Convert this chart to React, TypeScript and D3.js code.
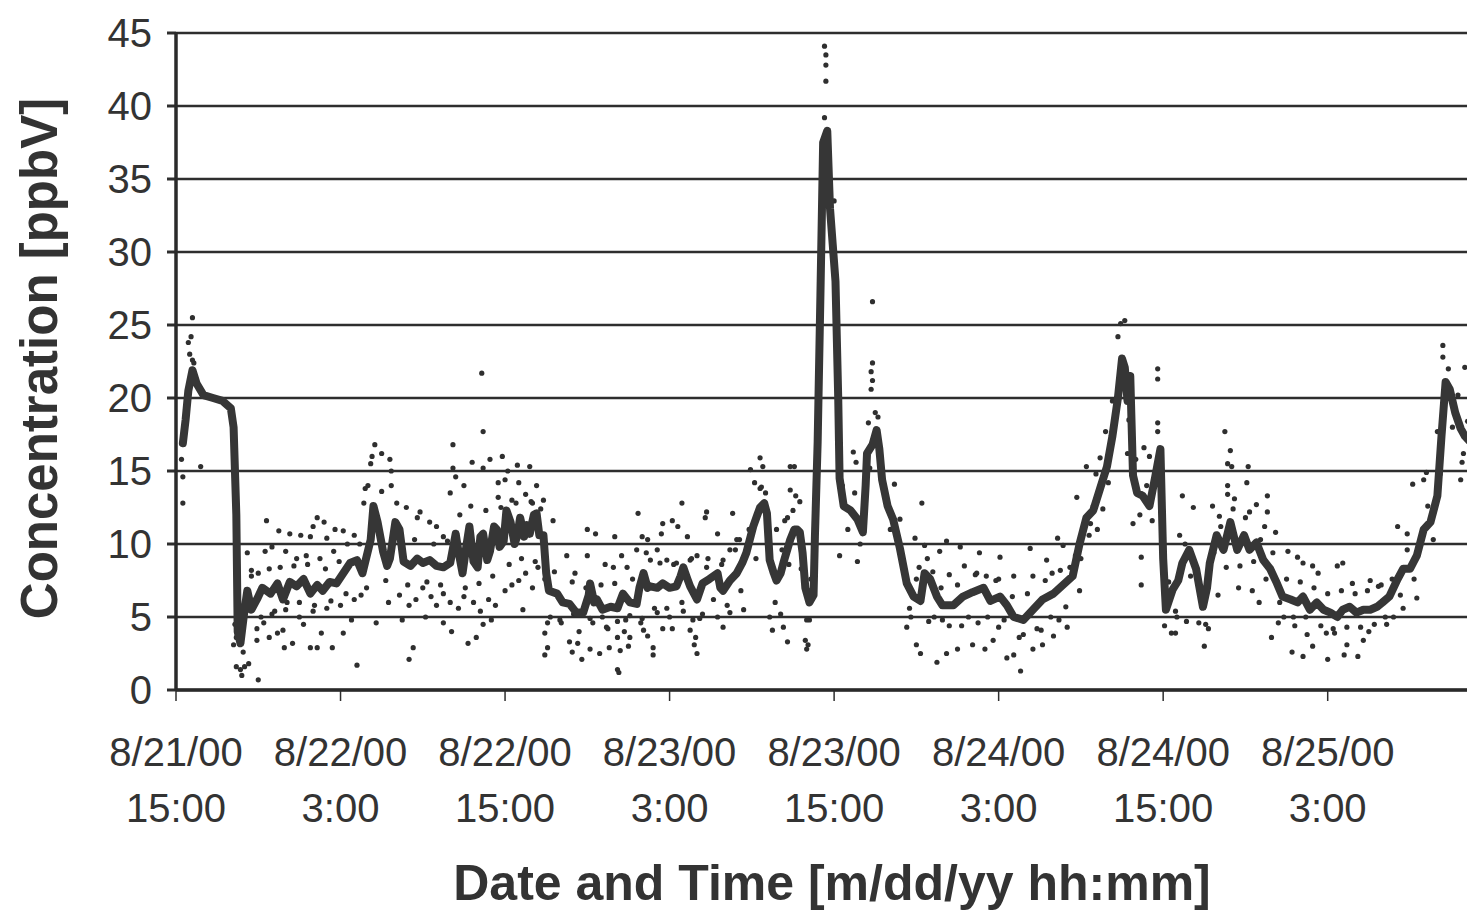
import React, { useEffect } from "react";
import * as d3 from "d3";

// time axis starts at 8/21/00 15:00, readings are [hours since start, ppbV]
const startTime = new Date(2000, 7, 21, 15, 0);
const xTickHours = [0, 12, 24, 36, 48, 60, 72, 84];
const yTicks = [0, 5, 10, 15, 20, 25, 30, 35, 40, 45];
const yTitle = "Concentration [ppbV]";
const xTitle = "Date and Time [m/dd/yy hh:mm]";

// running mean (thick line)
const lineReadings: [number, number][] = [
  [0.5, 16.9], [0.7, 18.5], [0.9, 20.5], [1.2, 21.9], [1.5, 21.0], [2.0, 20.2], [2.7, 20.0], [3.4, 19.8],
  [4.0, 19.3], [4.2, 18.0], [4.4, 12.0], [4.5, 4.0], [4.7, 3.2], [5.0, 5.5], [5.2, 6.8], [5.5, 5.5],
  [5.9, 6.2], [6.3, 7.0], [6.9, 6.6], [7.4, 7.3], [7.8, 6.2], [8.3, 7.4], [8.8, 7.1], [9.3, 7.6],
  [9.8, 6.6], [10.3, 7.2], [10.7, 6.8], [11.2, 7.4], [11.7, 7.3], [12.2, 8.0], [12.7, 8.7], [13.2, 8.9],
  [13.6, 8.0], [14.2, 10.3], [14.4, 12.6], [14.7, 11.5], [15.1, 9.5], [15.4, 8.5], [15.6, 9.0], [16.0, 11.5],
  [16.3, 11.0], [16.6, 8.8], [17.1, 8.5], [17.6, 9.0], [18.0, 8.7], [18.5, 8.9], [19.0, 8.5], [19.5, 8.4],
  [20.0, 8.7], [20.4, 10.7], [20.6, 9.5], [20.9, 8.0], [21.2, 10.0], [21.4, 11.2], [21.7, 8.8], [22.0, 8.4],
  [22.2, 10.5], [22.4, 10.7], [22.7, 8.9], [22.9, 9.5], [23.2, 11.2], [23.4, 11.0], [23.6, 9.8], [23.9, 10.2],
  [24.1, 12.3], [24.4, 11.5], [24.7, 10.0], [24.9, 10.6], [25.1, 11.8], [25.4, 10.5], [25.6, 11.3], [25.8, 10.7],
  [26.1, 12.0], [26.3, 12.1], [26.5, 10.6], [26.8, 10.6], [27.0, 8.0], [27.2, 6.8], [27.8, 6.6], [28.2, 6.0],
  [28.7, 5.9], [29.2, 5.3], [29.7, 5.3], [30.1, 6.5], [30.2, 7.3], [30.5, 6.0], [30.7, 6.2], [31.1, 5.5],
  [31.7, 5.7], [32.2, 5.6], [32.6, 6.6], [33.1, 6.0], [33.6, 5.9], [33.8, 7.0], [34.1, 8.0], [34.4, 7.0],
  [34.6, 7.1], [35.1, 7.0], [35.5, 7.3], [36.0, 7.0], [36.5, 7.1], [36.8, 7.8], [37.0, 8.4], [37.3, 7.6],
  [37.5, 7.1], [38.0, 6.2], [38.4, 7.3], [38.9, 7.6], [39.5, 8.0], [39.7, 7.0], [39.9, 6.8], [40.4, 7.5],
  [40.9, 8.0], [41.3, 8.7], [41.6, 9.4], [42.1, 11.2], [42.4, 12.0], [42.6, 12.5], [42.9, 12.8], [43.1, 12.1],
  [43.3, 8.9], [43.6, 8.0], [43.8, 7.5], [44.1, 8.0], [44.3, 8.7], [44.8, 10.3], [45.1, 11.0], [45.3, 11.0],
  [45.5, 10.8], [45.7, 9.4], [45.9, 7.0], [46.2, 6.0], [46.5, 6.5], [46.6, 10.5], [46.8, 17.0], [47.0, 27.0],
  [47.2, 37.5], [47.5, 38.3], [47.7, 33.0], [47.9, 30.5], [48.1, 28.0], [48.3, 20.0], [48.4, 14.5], [48.7, 12.6],
  [49.2, 12.3], [49.7, 11.7], [50.1, 10.8], [50.3, 14.0], [50.4, 16.2], [50.8, 16.8], [51.1, 17.8], [51.3, 16.5],
  [51.5, 14.4], [51.9, 12.6], [52.3, 11.7], [52.8, 9.7], [53.3, 7.3], [53.8, 6.4], [54.3, 6.1], [54.6, 8.0],
  [55.0, 7.6], [55.5, 6.4], [55.9, 5.8], [56.7, 5.8], [57.4, 6.4], [58.1, 6.7], [58.9, 7.0], [59.4, 6.1],
  [60.1, 6.4], [60.6, 5.8], [61.1, 5.0], [61.8, 4.8], [62.5, 5.5], [63.2, 6.2], [64.0, 6.6], [64.7, 7.2],
  [65.4, 7.8], [65.9, 10.0], [66.4, 11.8], [66.9, 12.3], [67.4, 13.8], [67.9, 15.3], [68.3, 17.4], [68.7, 20.0],
  [69.0, 22.7], [69.2, 22.1], [69.4, 19.8], [69.6, 21.5], [69.8, 14.7], [70.1, 13.5], [70.5, 13.3], [71.0, 12.6],
  [71.4, 14.5], [71.8, 16.5], [72.0, 9.0], [72.2, 5.5], [72.7, 6.9], [73.1, 7.5], [73.4, 8.7], [73.9, 9.6],
  [74.4, 8.3], [74.9, 5.7], [75.2, 7.0], [75.4, 8.7], [75.9, 10.6], [76.4, 9.6], [76.9, 11.5], [77.4, 9.6],
  [77.9, 10.6], [78.3, 9.6], [78.8, 10.1], [79.3, 8.9], [79.8, 8.3], [80.3, 7.3], [80.7, 6.4], [81.3, 6.2],
  [81.8, 6.0], [82.2, 6.4], [82.7, 5.5], [83.2, 6.0], [83.7, 5.5], [84.2, 5.3], [84.7, 5.0], [85.1, 5.5],
  [85.6, 5.7], [86.1, 5.3], [86.6, 5.5], [87.1, 5.5], [87.6, 5.7], [88.0, 6.0], [88.5, 6.4], [89.1, 7.6],
  [89.5, 8.3], [90.0, 8.3], [90.5, 9.2], [91.0, 11.0], [91.5, 11.5], [92.0, 13.3], [92.3, 17.4], [92.6, 21.1],
  [92.9, 20.6], [93.3, 19.0], [93.7, 17.9], [94.0, 17.4], [94.4, 17.0],
];

// individual readings (dots) away from the line
const scatterReadings: [number, number][] = [
  [0.4, 15.8], [0.5, 14.6], [0.5, 12.8], [0.6, 18.0], [0.7, 19.2], [0.9, 23.8], [1.0, 23.0], [1.1, 24.2],
  [1.2, 22.6], [1.2, 25.5], [1.3, 22.4], [1.8, 15.3], [4.3, 4.5], [4.4, 3.6], [4.2, 3.1], [4.9, 2.6],
  [4.4, 1.6], [5.0, 1.6], [5.3, 1.8], [4.7, 1.4], [4.8, 1.0], [6.0, 0.7],
  [5.2, 9.4], [5.5, 8.2], [6.6, 11.6], [7.5, 10.9], [8.3, 10.7], [9.1, 10.6], [9.8, 10.5], [10.3, 11.8],
  [10.8, 11.5], [10.0, 11.2], [11.6, 11.0], [12.2, 10.9], [11.0, 10.4], [6.5, 9.5], [7.0, 9.8], [8.0, 9.5],
  [8.8, 9.0], [9.5, 9.2], [10.5, 9.0], [11.5, 9.5], [12.5, 10.0], [13.0, 10.6], [13.7, 12.8], [13.8, 13.8],
  [5.9, 4.2], [6.4, 4.6], [5.9, 3.4], [6.8, 3.6], [7.4, 3.9], [7.8, 4.1], [7.9, 2.9], [8.5, 3.2],
  [9.8, 2.9], [10.3, 2.9], [10.6, 3.9], [11.4, 2.9], [12.2, 3.9], [13.2, 1.7], [6.2, 5.0], [7.0, 5.2],
  [8.0, 5.5], [9.0, 5.0], [10.0, 5.4], [11.0, 5.6], [12.0, 5.8], [13.0, 6.2], [13.5, 6.5], [9.3, 4.5],
  [12.8, 4.8],
  [14.2, 15.5], [14.5, 16.8], [14.3, 16.0], [15.0, 16.2], [15.6, 15.8], [15.7, 15.0], [14.0, 14.0], [15.0, 13.6],
  [15.7, 14.0], [16.8, 12.5], [17.6, 11.8], [17.8, 12.2], [18.5, 11.5], [20.2, 16.8], [20.2, 15.2], [20.4, 14.6],
  [21.6, 15.6], [22.4, 15.2], [22.9, 15.8], [23.5, 14.2], [23.5, 13.2], [20.0, 13.5], [21.0, 14.0], [19.0, 11.2],
  [19.5, 10.5], [22.3, 21.7], [22.4, 17.7], [23.8, 16.0], [24.9, 15.4], [24.0, 14.4], [24.5, 13.0], [25.0, 14.2],
  [25.5, 13.4], [26.0, 12.8], [26.3, 14.0], [26.8, 13.0], [24.2, 15.0], [25.8, 15.3],
  [15.5, 6.0], [16.3, 6.5], [17.0, 5.8], [17.5, 6.2], [18.0, 7.0], [18.6, 6.4], [19.0, 5.8], [19.5, 6.6],
  [20.0, 6.0], [20.6, 5.6], [21.0, 6.4], [21.7, 6.0], [22.2, 5.4], [22.8, 6.2], [23.3, 5.8], [24.0, 6.8],
  [24.5, 7.2], [25.0, 7.5], [25.5, 8.0], [26.0, 7.0], [26.4, 8.4], [26.9, 7.6], [19.5, 4.6], [20.1, 4.0],
  [21.3, 3.2], [21.9, 3.6], [22.4, 4.5], [17.0, 2.1], [17.3, 2.9], [14.6, 4.6], [16.5, 4.8], [18.2, 5.0],
  [23.0, 4.8], [25.3, 5.5],
  [27.5, 11.6], [30.0, 11.0], [30.6, 10.7], [32.0, 10.5], [33.7, 12.1], [34.0, 10.5], [34.4, 10.3], [35.5, 11.4],
  [36.2, 11.6], [36.6, 11.2], [35.4, 10.7], [36.9, 12.8], [37.3, 10.5], [38.7, 12.2], [38.6, 11.8], [39.5, 10.7],
  [40.6, 12.1], [40.9, 10.3], [41.1, 10.3], [41.9, 15.1], [42.6, 15.9], [42.8, 15.3], [42.2, 14.2], [42.6, 13.8],
  [43.0, 13.5], [44.8, 15.3], [45.1, 15.3], [44.8, 13.7], [45.2, 13.3], [45.5, 12.9], [44.4, 11.6], [44.6, 11.8],
  [43.8, 11.0],
  [28.5, 9.2], [29.1, 8.0], [30.0, 9.2], [31.3, 8.6], [31.9, 8.4], [32.5, 9.2], [32.9, 8.4], [33.6, 9.6],
  [34.6, 8.9], [35.1, 9.6], [35.8, 8.9], [36.5, 8.7], [37.5, 8.9], [38.0, 9.2], [38.7, 8.4], [39.9, 8.9],
  [40.4, 9.6],
  [26.9, 3.9], [27.1, 4.6], [26.9, 2.4], [27.1, 2.9], [28.7, 3.3], [29.3, 3.2], [30.2, 2.8], [30.9, 2.5],
  [28.9, 2.6], [29.6, 2.1], [31.4, 4.3], [32.2, 3.6], [32.7, 4.0], [33.1, 3.6], [31.6, 2.9], [32.4, 2.7],
  [33.0, 3.0], [32.2, 1.4], [32.3, 1.2], [34.1, 4.1], [34.4, 3.7], [34.8, 2.9], [34.8, 2.4], [35.5, 4.2],
  [36.2, 4.2], [37.5, 4.1], [37.9, 3.6], [37.8, 3.1], [38.0, 2.5], [39.9, 4.3], [43.5, 4.1], [44.3, 4.3],
  [44.6, 3.3], [45.9, 3.4], [46.1, 3.1], [46.0, 2.8],
  [27.3, 5.0], [28.0, 4.8], [29.0, 5.2], [30.2, 4.9], [31.1, 5.0], [32.2, 4.7], [33.1, 5.1], [34.0, 4.9],
  [35.1, 5.3], [36.0, 5.0], [37.0, 5.4], [37.7, 4.8], [38.4, 5.2], [39.5, 5.0], [40.4, 5.3], [41.4, 5.5],
  [43.3, 5.0], [44.1, 5.2], [46.2, 4.8],
  [47.3, 44.1], [47.4, 43.5], [47.4, 42.8], [47.4, 41.7], [47.3, 39.2], [47.1, 33.0], [47.0, 29.5], [46.9, 24.0],
  [48.0, 33.5], [48.2, 25.5], [50.8, 26.6], [50.8, 22.4], [50.7, 21.8], [50.8, 21.2], [50.7, 20.6], [50.5, 18.3],
  [51.2, 18.7], [49.4, 16.3], [49.6, 15.6], [52.4, 14.1], [52.8, 11.7], [54.4, 12.8], [48.4, 9.2], [49.7, 8.8],
  [46.0, 4.8],
  [53.9, 10.4], [54.6, 9.9], [55.7, 9.5], [56.2, 10.2], [57.2, 9.8], [58.6, 9.4], [60.1, 9.1], [62.3, 9.7],
  [63.5, 8.9], [64.3, 10.4], [64.7, 9.9],
  [54.2, 8.4], [55.2, 8.1], [56.4, 7.9], [57.5, 8.5], [58.3, 7.9], [59.1, 7.8], [60.0, 7.6], [61.1, 7.8],
  [62.5, 7.8], [63.9, 8.0], [65.2, 8.4],
  [53.3, 4.3], [54.0, 3.1], [54.3, 2.5], [55.5, 1.9], [56.2, 2.5], [57.0, 2.8], [58.1, 3.1], [59.0, 2.8],
  [59.6, 3.4], [60.6, 2.2], [61.6, 1.3], [61.1, 2.4], [62.5, 2.8], [63.2, 3.1], [64.0, 3.7], [65.0, 4.3],
  [53.6, 5.0], [54.9, 4.7], [55.9, 4.8], [57.3, 4.4], [58.5, 4.6], [60.0, 4.3], [61.8, 3.8], [63.1, 4.1],
  [64.4, 4.8],
  [65.7, 13.2], [66.4, 15.3], [67.4, 15.9], [67.8, 17.7], [68.3, 19.8], [68.7, 24.2], [68.9, 25.1], [69.2, 25.3],
  [69.4, 16.2], [69.8, 11.4], [66.7, 11.4], [66.9, 12.6], [66.0, 9.0], [67.2, 11.0], [68.0, 14.2],
  [71.6, 22.0], [71.6, 21.3], [71.6, 18.3], [71.6, 17.7], [70.6, 16.6], [71.0, 16.0], [70.4, 9.1], [70.4, 7.2],
  [73.4, 13.3], [74.2, 12.5], [73.2, 10.6], [76.5, 17.7], [76.9, 16.4], [76.7, 15.5], [77.0, 15.3], [78.2, 15.3],
  [78.1, 14.2], [76.7, 14.0], [76.7, 13.4], [75.6, 12.6], [76.1, 11.9], [77.2, 13.1], [78.8, 12.7], [78.3, 12.2],
  [79.6, 13.3], [79.6, 12.2], [80.2, 10.8], [79.4, 11.2], [81.1, 9.5], [81.8, 9.1], [82.2, 8.7], [82.9, 8.5],
  [83.3, 8.0], [84.7, 8.5], [85.1, 8.7], [85.8, 7.3], [87.1, 7.5], [87.7, 7.1], [89.1, 11.2], [89.8, 10.7],
  [90.2, 14.1], [91.0, 14.4], [91.2, 14.9], [92.4, 23.6], [92.4, 22.8], [94.0, 22.1], [93.7, 14.4], [93.8, 15.6],
  [92.0, 17.7],
  [72.1, 4.4], [72.6, 3.9], [72.9, 3.9], [73.7, 4.7], [75.0, 3.0], [75.3, 4.2], [79.9, 3.6], [80.4, 4.6],
  [81.4, 2.6], [82.2, 2.3], [82.9, 3.0], [84.0, 2.1], [85.2, 2.4], [86.2, 2.3], [85.4, 3.1], [86.6, 3.4],
  [88.3, 4.5], [81.6, 4.4], [82.5, 3.8], [83.9, 3.9], [89.5, 5.6], [90.5, 6.3], [73.0, 5.0], [74.6, 4.6],
  [76.0, 6.5], [77.5, 7.0], [78.5, 6.8], [79.0, 6.0], [80.8, 5.0], [84.4, 4.2], [87.0, 4.0], [88.8, 5.0],
];

// individual readings (dots) hugging the line
const nearLineReadings: [number, number][] = [
  [5.5, 7.8], [6.0, 8.0], [6.8, 8.3], [7.2, 5.4], [7.6, 8.4], [8.1, 6.0], [8.6, 8.5], [9.0, 6.0],
  [9.6, 8.6], [10.1, 5.8], [10.9, 8.3], [11.3, 6.1], [11.9, 8.8], [12.4, 6.6], [13.4, 10.0], [13.9, 7.0],
  [14.9, 10.8], [15.3, 7.5], [16.1, 12.8], [16.9, 7.2], [17.4, 10.3], [18.3, 7.4], [18.8, 10.0], [19.3, 7.2],
  [19.8, 10.2], [20.7, 12.0], [21.1, 7.0], [21.5, 12.6], [22.1, 7.3], [22.6, 12.3], [23.1, 7.8], [23.7, 12.5],
  [24.3, 8.6], [24.8, 12.8], [25.2, 9.0], [25.9, 12.9], [26.2, 8.8], [26.6, 12.4],
  [27.6, 8.1], [28.1, 4.6], [28.9, 7.4], [29.4, 4.0], [29.9, 7.0], [30.4, 4.6], [31.0, 7.2], [31.5, 4.2],
  [32.0, 7.3], [32.8, 4.8], [33.3, 7.6], [33.9, 4.6], [34.3, 9.4], [34.9, 5.6], [35.3, 8.7], [35.8, 5.6],
  [36.3, 8.6], [36.9, 6.0], [37.6, 9.0], [38.2, 4.9], [38.8, 9.0], [39.2, 6.2], [39.8, 8.6], [40.2, 5.8],
  [40.8, 9.6], [41.2, 6.8], [41.8, 11.0], [42.3, 9.0], [42.7, 13.9], [43.2, 10.5], [43.7, 6.0], [44.2, 9.6],
  [44.7, 8.6], [45.0, 12.3], [45.6, 8.3], [46.3, 7.6],
  [48.6, 14.0], [49.0, 11.0], [49.5, 13.5], [49.9, 10.0], [50.6, 15.2], [51.0, 19.0], [51.7, 13.5], [52.1, 11.0],
  [52.6, 10.8], [53.0, 8.8], [53.5, 5.6], [54.0, 7.6], [54.8, 9.0], [55.3, 5.0], [55.8, 7.0], [56.4, 4.4],
  [57.0, 7.2], [57.8, 5.0], [58.4, 8.0], [59.2, 5.0], [59.8, 7.5], [60.4, 4.8], [61.0, 6.4], [61.5, 3.6],
  [62.1, 6.6], [62.8, 4.2], [63.4, 7.5], [63.8, 5.0], [64.5, 8.2], [64.9, 5.7], [65.6, 9.2], [65.9, 6.8],
  [66.6, 10.6], [67.1, 14.8], [67.6, 12.4], [68.1, 16.4], [68.5, 18.8], [69.1, 20.8], [69.5, 18.5], [70.0, 15.8],
  [70.3, 12.0], [70.8, 14.0], [71.2, 11.6], [72.4, 7.4], [72.9, 5.4], [73.6, 10.0], [74.0, 7.8], [74.7, 7.0],
  [75.1, 4.5], [75.7, 9.4], [76.2, 11.2], [76.6, 8.4], [77.1, 12.4], [77.6, 8.5], [78.0, 11.8], [78.6, 8.8],
  [79.1, 10.3], [79.5, 7.6], [80.0, 9.4], [80.5, 6.0], [81.0, 7.6], [81.5, 5.0], [82.0, 7.4], [82.4, 5.0],
  [83.0, 7.0], [83.5, 4.4], [84.0, 6.6], [84.5, 3.9], [85.0, 6.8], [85.4, 4.3], [86.0, 6.6], [86.4, 4.3],
  [86.9, 6.8], [87.4, 4.5], [87.9, 7.2], [88.2, 5.0], [88.7, 7.6], [89.3, 6.5], [89.8, 9.6], [90.3, 7.6],
  [90.8, 10.3], [91.3, 12.6], [91.7, 10.3], [92.2, 14.8], [92.5, 19.6], [92.8, 22.0], [93.1, 18.0], [93.5, 20.2],
  [93.9, 16.2], [94.2, 18.4],
];

const tickFont = "'Liberation Sans', Arial, sans-serif";
const ink = "#333";

export default function App() {
  useEffect(() => {
    document.body.style.margin = "0";
  }, []);

  const width = 1467;
  const height = 913;
  const plot = { left: 176, right: 1467, top: 33, bottom: 690 };
  const hourMs = 3600 * 1000;
  const at = (h: number) => new Date(startTime.getTime() + h * hourMs);

  const x = d3.scaleTime().domain([startTime, at(94.16)]).range([plot.left, plot.right]);
  const y = d3.scaleLinear().domain([0, 45]).range([plot.bottom, plot.top]);

  const line = d3
    .line<[number, number]>()
    .x((d) => x(at(d[0])))
    .y((d) => y(d[1]));

  const fmtDay = d3.timeFormat("%-m/%d/%y");
  const fmtHour = d3.timeFormat("%-H:%M");
  const allDots = scatterReadings.concat(nearLineReadings);

  return (
    <svg width={width} height={height} style={{ display: "block", background: "#fff" }}>
      <defs>
        <clipPath id="plotClip">
          <rect x={plot.left} y={plot.top - 10} width={plot.right - plot.left} height={plot.bottom - plot.top + 12} />
        </clipPath>
      </defs>

      {/* gridlines */}
      {yTicks.map((t) => (
        <line key={"g" + t} x1={plot.left} x2={plot.right} y1={y(t)} y2={y(t)} stroke="#2e2e2e" strokeWidth={2.5} />
      ))}

      {/* y ticks + labels */}
      {yTicks.map((t) => (
        <g key={"y" + t}>
          <line x1={plot.left - 9} x2={plot.left} y1={y(t)} y2={y(t)} stroke="#2e2e2e" strokeWidth={3} />
          <text x={152} y={y(t)} dy="0.36em" textAnchor="end" fontFamily={tickFont} fontSize={40} fill={ink}>
            {t}
          </text>
        </g>
      ))}

      {/* x ticks + labels */}
      {xTickHours.map((h) => (
        <g key={"x" + h}>
          <line x1={x(at(h))} x2={x(at(h))} y1={plot.bottom} y2={plot.bottom + 11} stroke="#2e2e2e" strokeWidth={1.5} />
          <text x={x(at(h))} y={766} textAnchor="middle" fontFamily={tickFont} fontSize={40} fill={ink}>
            {fmtDay(at(h))}
          </text>
          <text x={x(at(h))} y={822} textAnchor="middle" fontFamily={tickFont} fontSize={40} fill={ink}>
            {fmtHour(at(h))}
          </text>
        </g>
      ))}

      <g clipPath="url(#plotClip)">
        {allDots.map((d, i) => (
          <circle key={"d" + i} cx={x(at(d[0]))} cy={y(d[1])} r={2.6} fill="#2f2f2f" />
        ))}
        <path
          d={line(lineReadings) ?? ""}
          fill="none"
          stroke="#363636"
          strokeWidth={8}
          strokeLinejoin="round"
          strokeLinecap="round"
        />
      </g>

      {/* axes */}
      <line x1={plot.left} x2={plot.left} y1={plot.top - 1} y2={plot.bottom + 1} stroke="#2a2a2a" strokeWidth={3.5} />
      <line x1={plot.left} x2={plot.right} y1={plot.bottom} y2={plot.bottom} stroke="#2a2a2a" strokeWidth={3.5} />

      {/* titles */}
      <text
        transform={`translate(57,${(plot.top + plot.bottom) / 2 - 3}) rotate(-90)`}
        textAnchor="middle"
        fontFamily={tickFont}
        fontWeight="bold"
        fontSize={51}
        fill={ink}
      >
        {yTitle}
      </text>
      <text x={832} y={900} textAnchor="middle" fontFamily={tickFont} fontWeight="bold" fontSize={50} fill={ink}>
        {xTitle}
      </text>
    </svg>
  );
}
